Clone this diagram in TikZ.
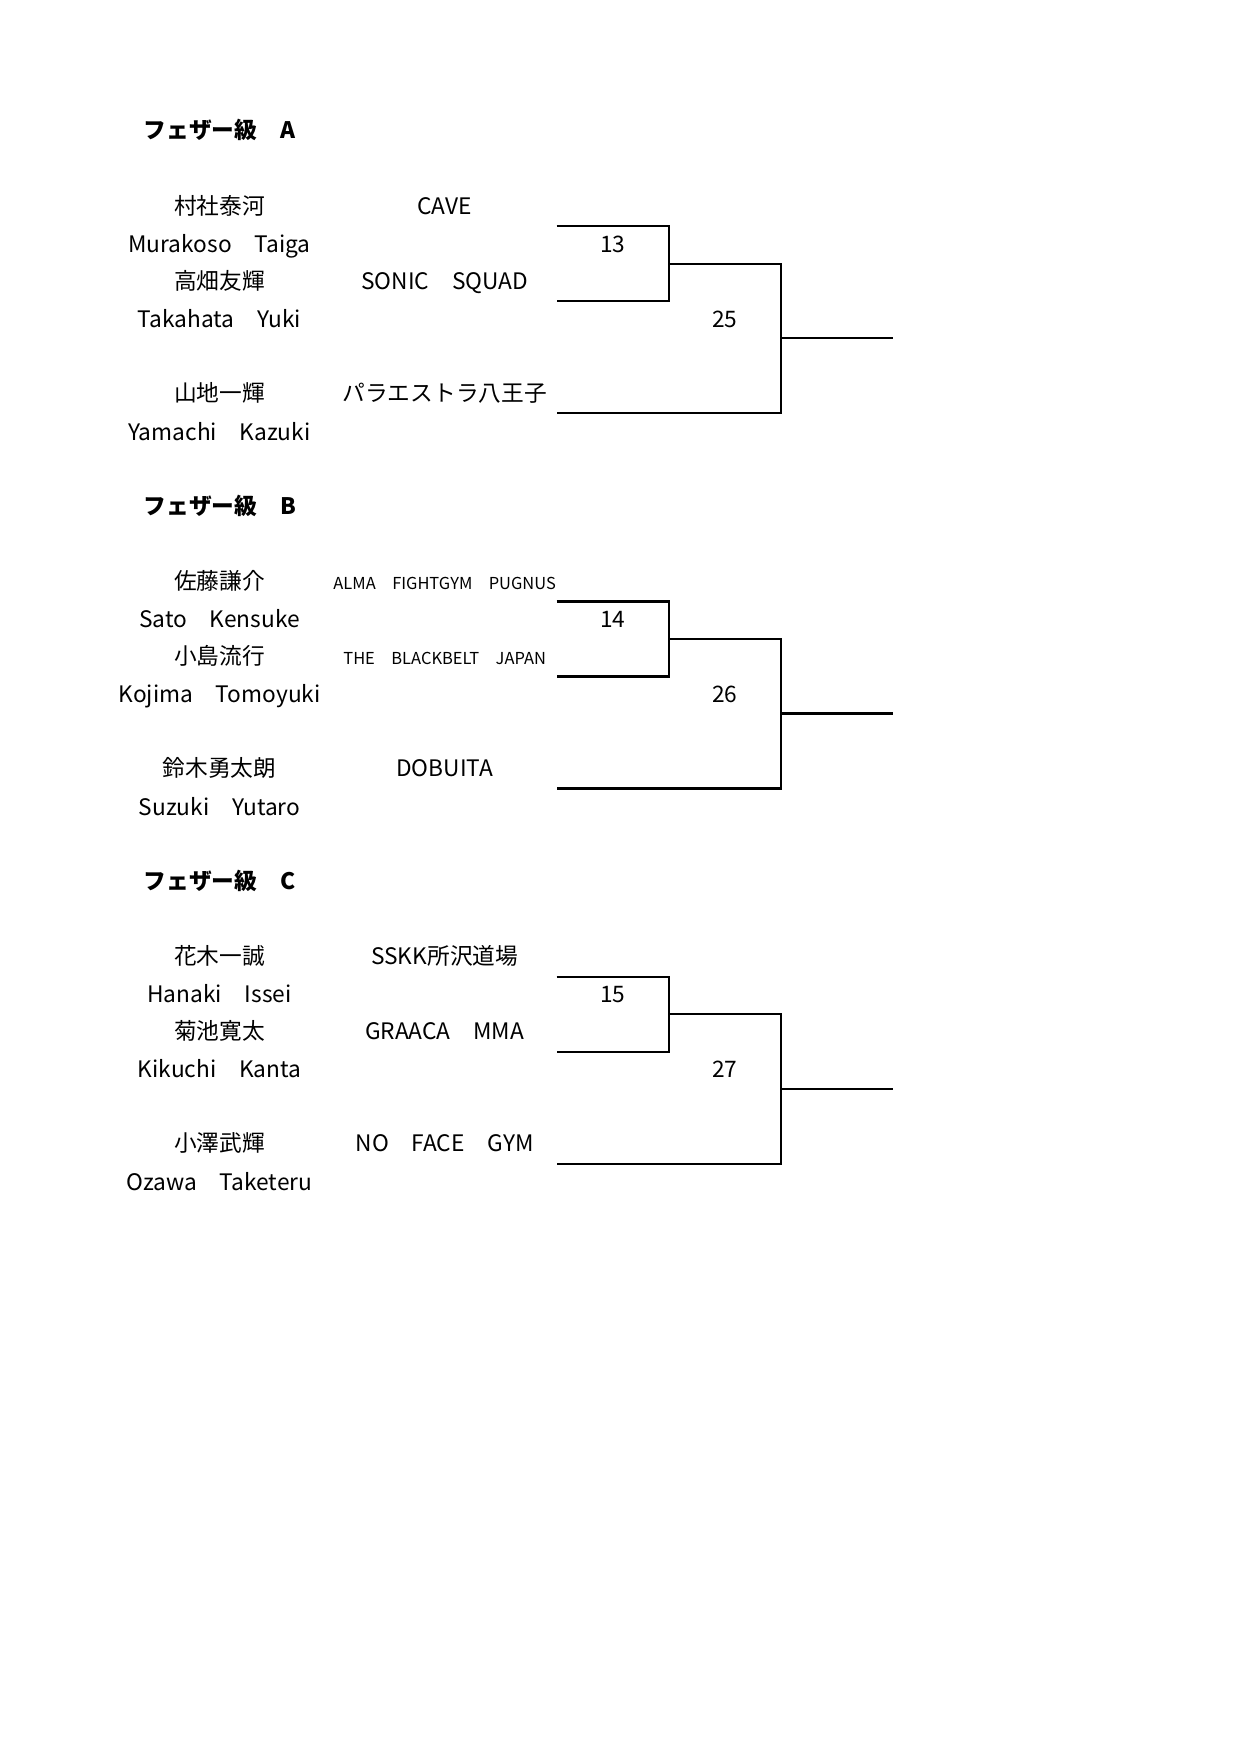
\documentclass[tikz,border=0pt]{standalone}
\usepackage{fontspec}
\setmainfont{Noto Sans CJK JP}
\newcommand\bracketlines[3]{%
  \coordinate (#1p1) at (497,202);
  \coordinate (#1q1) at (597,202);
  \coordinate (#1q2) at (597,269);
  \coordinate (#1p2) at (497,269);
  \coordinate (#1m) at (597,235.5);
  \coordinate (#1r1) at (697,235.5);
  \coordinate (#1r2) at (697,369);
  \coordinate (#1p3) at (497,369);
  \coordinate (#1r3) at (697,302);
  \coordinate (#1f) at (797,302);
  \draw[br] (#1p1) -- (#1q1) -- (#1q2) -- (#1p2);
  \draw[br] (#1m) -- (#1r1) -- (#1r2) -- (#1p3);
  \draw[br] (#1r3) -- (#1f);
  \node[txt] (#1l1) at (547,218) {#2};
  \node[txt] (#1l2) at (647,285) {#3};
}
\begin{document}
\begin{tikzpicture}[x=0.53762pt,y=-0.53762pt,
  txt/.style={inner sep=0pt,anchor=center,text height=0.88em,text depth=0.12em,font=\fontsize{10.9}{12}\selectfont},
  small/.style={txt,font=\fontsize{7.9}{9}\selectfont},
  ttl/.style={txt,anchor=west,font=\fontsize{10.9}{12}\selectfont\bfseries},
  br/.style={draw=black,line width=1.05pt}]
\useasboundingbox[fill=white] (0,0) rectangle (1108,1566.9);

% Block A
\begin{scope}
\node[ttl] (At) at (128,117) {フェザー級　A};
\node[txt] (Aj1) at (196,184) {村社泰河};
\node[txt] (Ac1) at (397,184) {CAVE};
\node[txt] (Ae1) at (196,218) {Murakoso　Taiga};
\node[txt] (Aj2) at (196,251) {高畑友輝};
\node[txt] (Ac2) at (397,251) {SONIC　SQUAD};
\node[txt] (Ae2) at (196,285) {Takahata　Yuki};
\node[txt] (Aj3) at (196,351) {山地一輝};
\node[txt] (Ac3) at (397,351) {パラエストラ八王子};
\node[txt] (Ae3) at (196,386) {Yamachi　Kazuki};
\bracketlines{A}{13}{25}
\end{scope}

% Block B
\begin{scope}[shift={(0,335)}]
\node[ttl] (Bt) at (128,117) {フェザー級　B};
\node[txt] (Bj1) at (196,184) {佐藤謙介};
\node[small] (Bc1) at (397,184) {ALMA　FIGHTGYM　PUGNUS};
\node[txt] (Be1) at (196,218) {Sato　Kensuke};
\node[txt] (Bj2) at (196,251) {小島流行};
\node[small] (Bc2) at (397,251) {THE　BLACKBELT　JAPAN};
\node[txt] (Be2) at (196,285) {Kojima　Tomoyuki};
\node[txt] (Bj3) at (196,351) {鈴木勇太朗};
\node[txt] (Bc3) at (397,351) {DOBUITA};
\node[txt] (Be3) at (196,386) {Suzuki　Yutaro};
\bracketlines{B}{14}{26}
\end{scope}

% Block C
\begin{scope}[shift={(0,670)}]
\node[ttl] (Ct) at (128,117) {フェザー級　C};
\node[txt] (Cj1) at (196,184) {花木一誠};
\node[txt] (Cc1) at (397,184) {SSKK所沢道場};
\node[txt] (Ce1) at (196,218) {Hanaki　Issei};
\node[txt] (Cj2) at (196,251) {菊池寛太};
\node[txt] (Cc2) at (397,251) {GRAACA　MMA};
\node[txt] (Ce2) at (196,285) {Kikuchi　Kanta};
\node[txt] (Cj3) at (196,351) {小澤武輝};
\node[txt] (Cc3) at (397,351) {NO　FACE　GYM};
\node[txt] (Ce3) at (196,386) {Ozawa　Taketeru};
\bracketlines{C}{15}{27}
\end{scope}
\end{tikzpicture}
\end{document}
